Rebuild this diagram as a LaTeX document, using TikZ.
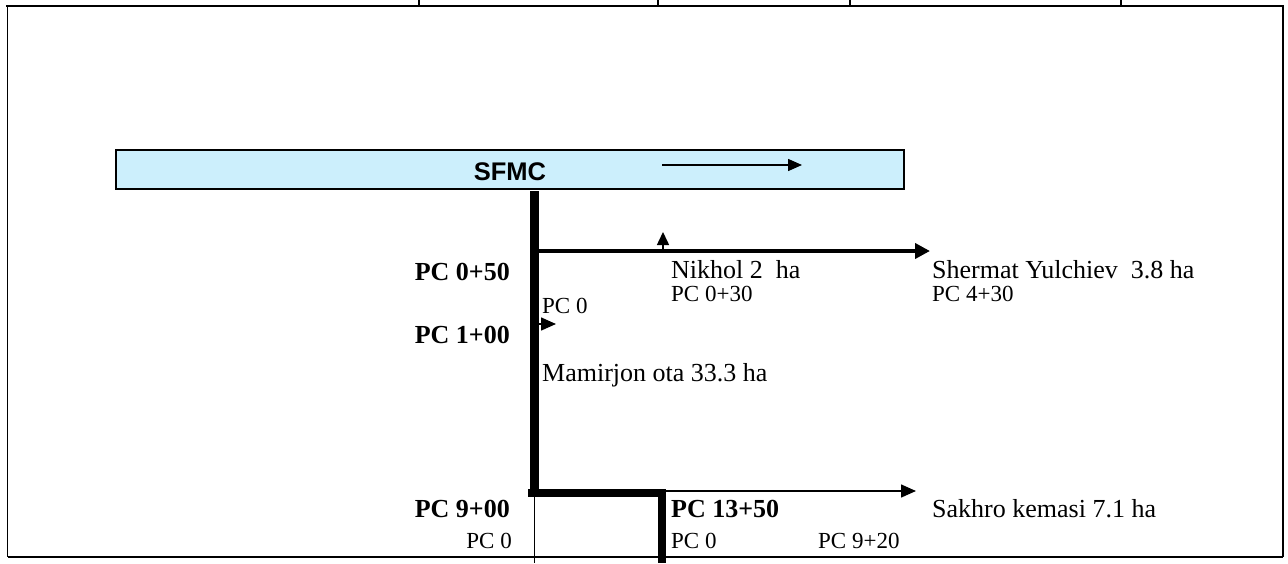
\documentclass[tikz,border=0pt]{standalone}
\usepackage{fontspec}
\setmainfont{Liberation Serif}
\newfontfamily\arialfont{Liberation Sans}
\usetikzlibrary{arrows.meta}
\begin{document}
\begin{tikzpicture}[x=1pt,y=-1pt,
  lab/.style={inner sep=0pt,anchor=base west,font=\fontsize{26}{28}\selectfont},
  blab/.style={inner sep=0pt,font=\fontsize{26}{28}\selectfont\bfseries},
  slab/.style={inner sep=0pt,font=\fontsize{23}{25}\selectfont},
  frame/.style={line width=2pt},
  tick/.style={line width=1.3pt},
  thin/.style={line width=1pt},
  bigarrow/.style={line width=4pt,-{Triangle[length=15pt,width=15pt]}},
  smallarrow/.style={line width=1.5pt,-{Triangle[length=14pt,width=12pt]}},
  box/.style={draw=black,line width=1.5pt,fill=cyan!20,inner sep=0pt}
]
\useasboundingbox (0,0) rectangle (1288,563);
% frame
\coordinate (tl) at (7.5,5.7);
\coordinate (tr) at (1283,5.7);
\coordinate (bl) at (7.5,557);
\coordinate (br) at (1283,557);
\draw[frame] (6,5.7) -- (1284,5.7);
\draw[line width=1.5pt] (tl) -- (bl);
\draw[line width=1.5pt] (tr) -- (br);
\draw[frame] (bl) -- (br);
\foreach \x/\n in {419/a,658/b,850/c,1121/d}{
  \coordinate (t\n) at (\x,0);
  \coordinate (u\n) at (\x,5.7);
  \draw[tick] (t\n) -- (u\n);
}
% SFMC box
\node[box,minimum width=788pt,minimum height=39pt] (sfmc) at (510,169.5) {};
\node[inner sep=0pt,font=\arialfont\bfseries\fontsize{25.5}{27}\selectfont] (sfmct) at (510,172) {SFMC};
\coordinate (fa) at (662,165);
\coordinate (fb) at (802,165);
\draw[smallarrow] (fa) -- (fb);
% main canal
\coordinate (m0) at (534.5,191);
\coordinate (m1) at (534.5,489);
\draw[line width=9pt] (m0) -- (m1);
% upper branch
\coordinate (b0) at (539,251);
\coordinate (b1) at (930,251);
\draw[bigarrow] (b0) -- (b1);
\coordinate (n0) at (663,251);
\coordinate (n1) at (663,232);
\draw[smallarrow,-{Triangle[length=13pt,width=12pt]}] (n0) -- (n1);
% small arrow at PC 0
\coordinate (s0) at (539,324);
\coordinate (s1) at (556,324);
\draw[line width=1.5pt,-{Triangle[length=15pt,width=13pt]}] (s0) -- (s1);
% lower junction
\coordinate (j0) at (528,493);
\coordinate (j1) at (666,493);
\draw[line width=8pt] (j0) -- (j1);
\coordinate (v0) at (662,489);
\coordinate (v1) at (662,563);
\draw[line width=8pt] (v0) -- (v1);
\coordinate (w0) at (534,497);
\coordinate (w1) at (534,563);
\draw[thin] (w0) -- (w1);
\coordinate (k0) at (666,491);
\coordinate (k1) at (916,491);
\draw[smallarrow,-{Triangle[length=15pt,width=13pt]}] (k0) -- (k1);
% labels
\node[blab,anchor=base east] (p050) at (510,280) {PC 0+50};
\node[blab,anchor=base east] (p100) at (510,343) {PC 1+00};
\node[blab,anchor=base east] (p900) at (510,517) {PC 9+00};
\node[blab,anchor=base west] (p1350) at (671,517) {PC 13+50};
\node[lab] (nik) at (671,278) {Nikhol 2\ \ ha};
\node[slab,anchor=base west] (nikpc) at (671,301) {PC 0+30};
\node[lab] (sher) at (932,278) {Shermat Yulchiev\ \ 3.8 ha};
\node[slab,anchor=base west] (sherpc) at (932,301) {PC 4+30};
\node[slab,anchor=base west] (pc0a) at (542,313) {PC 0};
\node[lab] (mam) at (542,381) {Mamirjon ota 33.3 ha};
\node[lab] (sak) at (932,517) {Sakhro kemasi 7.1 ha};
\node[slab,anchor=base east] (pc0b) at (512,548) {PC 0};
\node[slab,anchor=base west] (pc0c) at (671,548) {PC 0};
\node[slab,anchor=base west] (pc920) at (818,548) {PC 9+20};
\end{tikzpicture}
\end{document}
